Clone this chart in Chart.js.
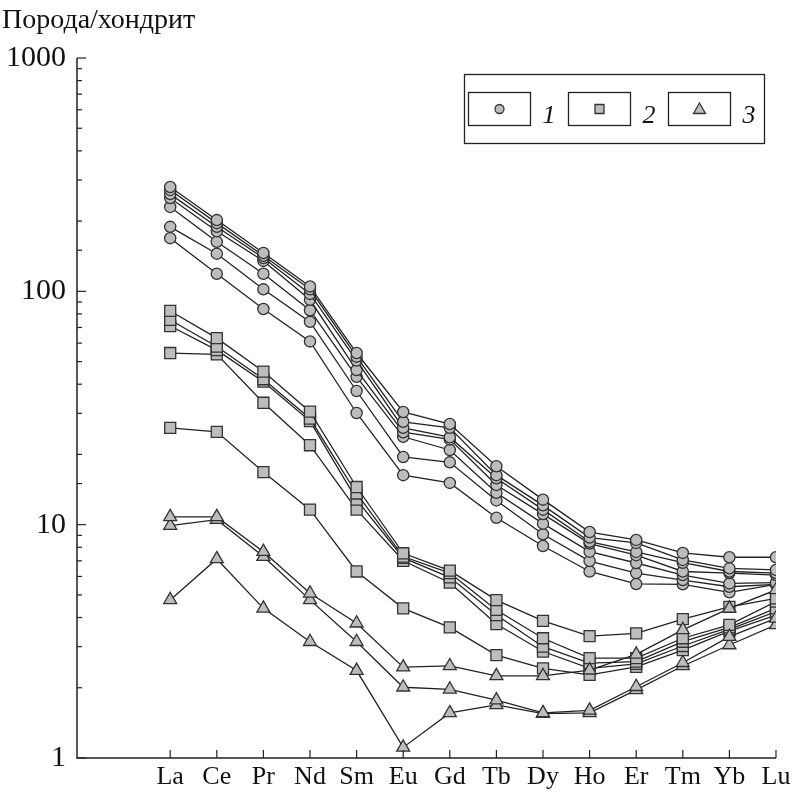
<!DOCTYPE html>
<html>
<head>
<meta charset="utf-8">
<script src="https://cdn.jsdelivr.net/npm/chart.js@4"></script>
<style>
  html, body { margin: 0; padding: 0; background: #fff; }
  #wrap { width: 797px; height: 792px; position: relative; }
</style>
</head>
<body>
<div id="wrap"><canvas id="reeChart"></canvas></div>
<script>
// REE names along the x axis (La sits at x = 0, axis starts at x = -2)
const elements = ["La", "Ce", "Pr", "Nd", "Sm", "Eu", "Gd", "Tb", "Dy", "Ho", "Er", "Tm", "Yb", "Lu"];
const yTicks = [1, 10, 100, 1000];
const yTitle = "Порода/хондрит";
const legendLabels = ["1", "2", "3"];

// group 1 (circles)
const group1 = [
    [280, 202, 146, 105, 54.4, 30.4, 27.0, 17.8, 12.8, 9.3, 8.6, 7.57, 7.25, 7.25],
    [272, 196, 142, 102, 52.5, 27.6, 26.0, 16.3, 12.1, 8.8, 8.35, 7.06, 6.5, 6.4],
    [261, 189, 139, 97.5, 50.5, 26.0, 23.7, 15.8, 11.6, 8.45, 7.64, 6.87, 6.3, 6.2],
    [251, 181, 135, 92, 46, 24.9, 23.2, 14.8, 11.1, 8.3, 7.4, 6.3, 6.2, 6.08],
    [230, 163, 119, 83, 43, 23.8, 20.9, 13.7, 10.1, 7.66, 6.85, 6.08, 5.6, 5.64],
    [189, 145, 102, 74, 37.4, 19.5, 18.5, 12.7, 9.1, 6.98, 6.2, 5.79, 5.42, 5.55],
    [169, 119, 84, 61, 30.1, 16.3, 15.1, 10.7, 8.1, 6.3, 5.57, 5.55, 5.13, 5.55]
];

// group 2 (squares)
const group2 = [
    [82.4, 63, 45.3, 30.5, 14.5, 7.54, 6.35, 4.75, 3.87, 3.33, 3.42, 3.94, 4.44, 4.83],
    [75.4, 58, 42, 28.5, 13.6, 7.3, 6.2, 4.31, 3.26, 2.68, 2.68, 3.26, 3.72, 4.68],
    [71, 56, 41, 27.8, 12.8, 7.2, 5.95, 4.1, 3.0, 2.55, 2.59, 3.15, 3.63, 4.38],
    [54.4, 53.7, 33.3, 21.9, 11.6, 7.0, 5.64, 3.75, 2.86, 2.42, 2.53, 3.02, 3.56, 4.24],
    [26, 25, 16.8, 11.6, 6.3, 4.38, 3.63, 2.76, 2.42, 2.27, 2.46, 2.9, 3.5, 4.1]
];

// group 3 (triangles)
const group3 = [
    [10.8, 10.8, 7.66, 5.08, 3.78, 2.45, 2.48, 2.25, 2.25, 2.38, 2.78, 3.54, 4.38, 5.25],
    [9.9, 10.5, 7.3, 4.76, 3.15, 2.01, 1.97, 1.77, 1.56, 1.6, 2.02, 2.56, 3.31, 3.97],
    [4.76, 7.13, 4.38, 3.15, 2.37, 1.11, 1.56, 1.69, 1.55, 1.56, 1.96, 2.48, 3.05, 3.72]
];

const FONT = "'Liberation Serif', 'DejaVu Serif', serif";
const LINE = "#222";
const FILL = "#bdbdbd";
const EDGE = "#333";

function makeSet(values, style, radius) {
    return {
        data: values.map((v, i) => ({ x: i, y: v })),
        borderColor: LINE,
        borderWidth: 1.3,
        pointStyle: style,
        pointRadius: radius,
        pointBackgroundColor: FILL,
        pointBorderColor: EDGE,
        pointBorderWidth: 1.3,
        tension: 0,
        fill: false
    };
}

const datasets = [];
group3.forEach(s => datasets.push(makeSet(s, "triangle", 7.5)));
group2.forEach(s => datasets.push(makeSet(s, "rect", 7.8)));
group1.forEach(s => datasets.push(makeSet(s, "circle", 5.6)));

// axis lines, inward ticks, title and framed legend
const decorPlugin = {
    id: "decor",
    afterDraw(chart) {
        const ctx = chart.ctx;
        const a = chart.chartArea;
        const xs = chart.scales.x, ys = chart.scales.y;
        ctx.save();
        ctx.strokeStyle = "#222";
        ctx.lineWidth = 1.5;
        ctx.beginPath();
        ctx.moveTo(a.left, a.top);
        ctx.lineTo(a.left, a.bottom);
        ctx.lineTo(xs.getPixelForValue(elements.length - 1), a.bottom);
        ctx.stroke();

        ctx.lineWidth = 1.2;
        ys.ticks.forEach(t => {
            const major = yTicks.includes(t.value);
            const py = ys.getPixelForValue(t.value);
            ctx.beginPath();
            ctx.moveTo(a.left, py);
            ctx.lineTo(a.left + (major ? 9 : 5), py);
            ctx.stroke();
        });
        elements.forEach((e, i) => {
            const px = xs.getPixelForValue(i);
            ctx.beginPath();
            ctx.moveTo(px, a.bottom);
            ctx.lineTo(px, a.bottom - 8);
            ctx.stroke();
        });

        ctx.fillStyle = "#111";
        ctx.font = "28px " + FONT;
        ctx.textAlign = "left";
        ctx.textBaseline = "alphabetic";
        ctx.fillText(yTitle, 2, 28);

        // legend
        ctx.lineWidth = 1.3;
        ctx.strokeRect(464.5, 74.5, 300, 69);
        const styles = ["circle", "rect", "triangle"];
        const boxX = [468.5, 568.5, 668.5];
        styles.forEach((st, i) => {
            ctx.strokeRect(boxX[i], 92.5, 62, 33);
            const cx = boxX[i] + 31, cy = 109;
            ctx.fillStyle = FILL;
            ctx.strokeStyle = EDGE;
            ctx.beginPath();
            if (st === "circle") {
                ctx.arc(cx, cy, 4.5, 0, Math.PI * 2);
            } else if (st === "rect") {
                ctx.rect(cx - 4.5, cy - 4.5, 9, 9);
            } else {
                ctx.moveTo(cx, cy - 6);
                ctx.lineTo(cx + 6, cy + 4.5);
                ctx.lineTo(cx - 6, cy + 4.5);
                ctx.closePath();
            }
            ctx.fill();
            ctx.stroke();
            ctx.strokeStyle = "#222";
            ctx.fillStyle = "#111";
            ctx.font = "italic 26px " + FONT;
            ctx.fillText(legendLabels[i], boxX[i] + 74, 123);
        });
        ctx.restore();
    }
};

new Chart(document.getElementById("reeChart"), {
    type: "line",
    data: { datasets: datasets },
    plugins: [decorPlugin],
    options: {
        responsive: true,
        maintainAspectRatio: false,
        animation: false,
        layout: { padding: { left: 0, right: 21, top: 58, bottom: 0 } },
        plugins: {
            legend: { display: false },
            tooltip: { enabled: false },
            title: { display: false }
        },
        scales: {
            x: {
                type: "linear",
                min: -2,
                max: elements.length - 1,
                afterBuildTicks: s => { s.ticks = elements.map((e, i) => ({ value: i })); },
                afterFit: s => { s.height = 34; },
                ticks: {
                    autoSkip: false,
                    maxRotation: 0,
                    padding: 4,
                    color: "#111",
                    font: { family: FONT, size: 26 },
                    callback: v => elements[v]
                },
                grid: { display: false, drawTicks: false },
                border: { display: false }
            },
            y: {
                type: "logarithmic",
                min: 1,
                max: 1000,
                afterFit: s => { s.width = 77; },
                ticks: {
                    autoSkip: false,
                    padding: 11,
                    color: "#111",
                    font: { family: FONT, size: 30 },
                    callback: v => (yTicks.includes(v) ? String(v) : "")
                },
                grid: { display: false, drawTicks: false },
                border: { display: false }
            }
        }
    }
});
</script>
</body>
</html>
